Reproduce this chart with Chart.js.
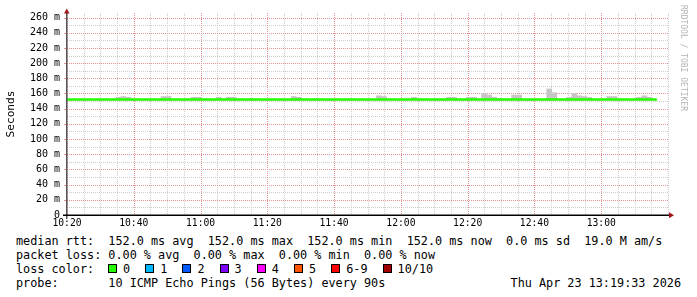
<!DOCTYPE html>
<html><head><meta charset="utf-8">
<script src="https://cdn.jsdelivr.net/npm/chart.js@4/dist/chart.umd.min.js"></script>
<style>
html,body{margin:0;padding:0;background:#fff;}
#wrap{position:relative;width:697px;height:297px;overflow:hidden;font-family:"DejaVu Sans Mono",monospace;color:#000;}
#c{position:absolute;left:0;top:0;}
.ln{position:absolute;left:16px;font-size:11.8px;line-height:14px;white-space:pre;}
.sw{position:absolute;width:7px;height:7px;border:1px solid #000;}
.lt{position:absolute;font-size:11.8px;line-height:14px;white-space:pre;}
</style></head>
<body>
<div id="wrap">
<canvas id="c" width="697" height="232"></canvas>
<div id="legend"></div>
</div>
<script>
// ---- data (minutes relative to 10:20, RRD step 90 s, first step starts 10:19:40) ----
const axisStartMinutes = 620;          // 10:20
const firstStepStart = -1/3;           // 10:19:40
const stepMinutes = 1.5;               // 90 s

// median RTT per step (ms)
const medianRtt = [
152,152,152,152,152,152,152,152,152,152,
152,152,152,152,152,152,152,152,152,152,
152,152,152,152,152,152,152,152,152,152,
152,152,152,152,152,152,152,152,152,152,
152,152,152,152,152,152,152,152,152,152,
152,152,152,152,152,152,152,152,152,152,
152,152,152,152,152,152,152,152,152,152,
152,152,152,152,152,152,152,152,152,152,
152,152,152,152,152,152,152,152,152,152,
152,152,152,152,152,152,152,152,152,152,
152,152,152,152,152,152,152,152,152,152,
152,152,152,152,152,152,152,152
];
// top of the smoke (slowest ping) per step (ms)
const smokeTop = [
152,152,152,152,152,152,152,152,152,152,
155,156,155,152,152,152,152,152,152,156,
156,152,152,152,152,155,155,152,152,152,
155,152,155,155,152,152,152,152,152,152,
152,152,152,152,152,156,155,152,152,152,
152,152,152,152,152,152,152,152,152,152,
152,152,157,156,152,152,152,152,152,155,
152,152,152,152,152,152,155,155,152,152,
155,155,152,160,158,155,152,152,152,158,
158,152,152,152,152,152,166,161,152,152,
155,160,157,156,155,152,152,152,156,156,
152,152,152,152,155,157,155,152
];
const smokeBottom = 151;

const yTickValues = [0,10,20,30,40,50,60,70,80,90,100,110,120,130,140,150,160,170,180,190,200,210,220,230,240,250,260];
const yTickLabels = ['0','20 m','40 m','60 m','80 m','100 m','120 m','140 m','160 m','180 m','200 m','220 m','240 m','260 m'];
const xTickLabels = ['10:20','10:40','11:00','11:20','11:40','12:00','12:20','12:40','13:00'];

const lossLabels = ['0','1','2','3','4','5','6-9','10/10'];
const lossColors = ['#26ff00','#00b8ff','#0059ff','#7e00ff','#ff00ff','#ff5500','#ff0000','#a10000'];

const legendLines = [
 'median rtt:  152.0 ms avg  152.0 ms max  152.0 ms min  152.0 ms now  0.0 ms sd  19.0 M am/s',
 'packet loss: 0.00 % avg  0.00 % max  0.00 % min  0.00 % now',
 'loss color:',
 'probe:       10 ICMP Echo Pings (56 Bytes) every 90s'
];
const dateText = 'Thu Apr 23 13:19:33 2026';
const watermark = 'RRDTOOL / TOBI OETIKER';

// ---- build datasets ----
const smokeData = smokeTop.map((t,i)=>({x:firstStepStart+stepMinutes*i+stepMinutes/2, y:[smokeBottom,t]}));
const medianData = [];
medianRtt.forEach((m,i)=>{
  const s = firstStepStart+stepMinutes*i;
  medianData.push({x:s,y:m});
  medianData.push({x:s+stepMinutes,y:m});
});

const MAJOR = '#e99393';
const MINOR = '#cdcdcd';

const majorX = xTickLabels.map((_,k)=>k*20);
const majorY = yTickLabels.map((_,k)=>k*20);

// dotted rrdtool-style grid, positioned from the chart's own scales
const rrdGrid = {
  id:'rrdGrid',
  beforeDatasetsDraw(chart){
    const {ctx, chartArea:a, scales:{x, y}} = chart;
    ctx.save();
    ctx.lineWidth = 1;
    ctx.setLineDash([1,1]);
    const drawH = (v, col) => {
      const py = Math.round(y.getPixelForValue(v)) + 0.5;
      ctx.strokeStyle = col;
      ctx.beginPath(); ctx.moveTo(a.left, py); ctx.lineTo(a.right, py); ctx.stroke();
    };
    const drawV = (v, col) => {
      const px = Math.round(x.getPixelForValue(v)) + 0.5;
      ctx.strokeStyle = col;
      ctx.beginPath(); ctx.moveTo(px, a.top); ctx.lineTo(px, a.bottom); ctx.stroke();
    };
    y.ticks.forEach(t => { if (!majorY.includes(t.value)) drawH(t.value, MINOR); });
    x.ticks.forEach(t => { if (!majorX.includes(t.value)) drawV(t.value, MINOR); });
    y.ticks.forEach(t => { if (majorY.includes(t.value)) drawH(t.value, MAJOR); });
    x.ticks.forEach(t => { if (majorX.includes(t.value)) drawV(t.value, MAJOR); });
    // short tick marks left of the y axis at labelled values
    ctx.setLineDash([]);
    ctx.strokeStyle = MAJOR;
    y.ticks.forEach(t => {
      if (majorY.includes(t.value)) {
        const py = Math.round(y.getPixelForValue(t.value)) + 0.5;
        ctx.beginPath(); ctx.moveTo(a.left-3, py); ctx.lineTo(a.left, py); ctx.stroke();
      }
    });
    ctx.restore();
  }
};

const decor = {
  id:'decor',
  afterDraw(chart){
    const {ctx, chartArea:a} = chart;
    ctx.save();
    // y axis
    ctx.strokeStyle = '#555'; ctx.lineWidth = 1.5;
    ctx.beginPath(); ctx.moveTo(a.left-0.25, a.bottom+4); ctx.lineTo(a.left-0.25, a.top-1); ctx.stroke();
    // x axis
    ctx.strokeStyle = '#000'; ctx.lineWidth = 1.5;
    ctx.beginPath(); ctx.moveTo(a.left-4, a.bottom+0.25); ctx.lineTo(a.right+2, a.bottom+0.25); ctx.stroke();
    // arrows
    ctx.fillStyle = '#a01818';
    ctx.beginPath(); ctx.moveTo(a.left-3, a.top+0.5); ctx.lineTo(a.left+2.5, a.top+0.5); ctx.lineTo(a.left-0.25, a.top-4.5); ctx.closePath(); ctx.fill();
    ctx.beginPath(); ctx.moveTo(a.right+1, a.bottom-2.75); ctx.lineTo(a.right+1, a.bottom+3.25); ctx.lineTo(a.right+6, a.bottom+0.25); ctx.closePath(); ctx.fill();
    // watermark
    ctx.fillStyle = '#b4b4b4';
    ctx.font = '8px "DejaVu Sans Mono"';
    ctx.translate(683, 5);
    ctx.rotate(Math.PI/2);
    ctx.textBaseline = 'middle';
    ctx.textAlign = 'left';
    ctx.fillText(watermark, 0, 0);
    ctx.restore();
  }
};

const fmtTime = v => {
  const idx = majorX.indexOf(v);
  return idx>=0 ? xTickLabels[idx] : '';
};

new Chart(document.getElementById('c'), {
  data:{
    datasets:[
      {type:'line', data:medianData, borderColor:lossColors[0], borderWidth:2.4, pointRadius:0, fill:false, clip:0, order:0},
      {type:'bar', data:smokeData, backgroundColor:'#c6c6c6', borderWidth:0, barPercentage:1, categoryPercentage:1, grouped:false, order:1}
    ]
  },
  options:{
    responsive:false, animation:false, devicePixelRatio:1,
    layout:{padding:{left:0, top:13, right:29, bottom:0}},
    plugins:{legend:{display:false}, tooltip:{enabled:false}},
    scales:{
      x:{
        type:'linear', min:0, max:180, offset:false,
        ticks:{stepSize:5, autoSkip:false, maxRotation:0, minRotation:0, padding:3, color:'#000',
               font:{family:'DejaVu Sans Mono', size:9.7}, callback:v=>fmtTime(v)},
        grid:{display:false, drawTicks:false},
        border:{display:false},
        afterFit:s=>{s.height=17;}
      },
      y:{
        min:0, max:266,
        afterBuildTicks:s=>{s.ticks = yTickValues.map(v=>({value:v}));},
        ticks:{autoSkip:false, padding:7, color:'#000',
               font:{family:'DejaVu Sans Mono', size:10},
               callback:v=>{const k=majorY.indexOf(v); return k>=0?yTickLabels[k]:'';}},
        grid:{display:false, drawTicks:false},
        border:{display:false},
        title:{display:true, text:'Seconds', color:'#000', font:{family:'DejaVu Sans Mono', size:11.2}, padding:{top:4,bottom:0}},
        afterFit:s=>{s.width=67;}
      }
    }
  },
  plugins:[rrdGrid, decor]
});

// ---- legend below the plot ----
const lg = document.getElementById('legend');
const tops = [234,248,262,276];
legendLines.forEach((t,i)=>{
  const d=document.createElement('div'); d.className='ln'; d.style.top=tops[i]+'px'; d.textContent=t; lg.appendChild(d);
});
let sx = 108;
lossLabels.forEach((lab,i)=>{
  const s=document.createElement('div'); s.className='sw'; s.style.left=sx+'px'; s.style.top='264px'; s.style.background=lossColors[i]; lg.appendChild(s);
  const t=document.createElement('div'); t.className='lt'; t.style.left=(sx+15)+'px'; t.style.top='262px'; t.textContent=lab; lg.appendChild(t);
  sx += 37.2 + (lab.length-1)*7.1;
});
const dt=document.createElement('div'); dt.className='lt'; dt.style.right=(697-681)+'px'; dt.style.top='276px'; dt.textContent=dateText; lg.appendChild(dt);
</script>
</body></html>
